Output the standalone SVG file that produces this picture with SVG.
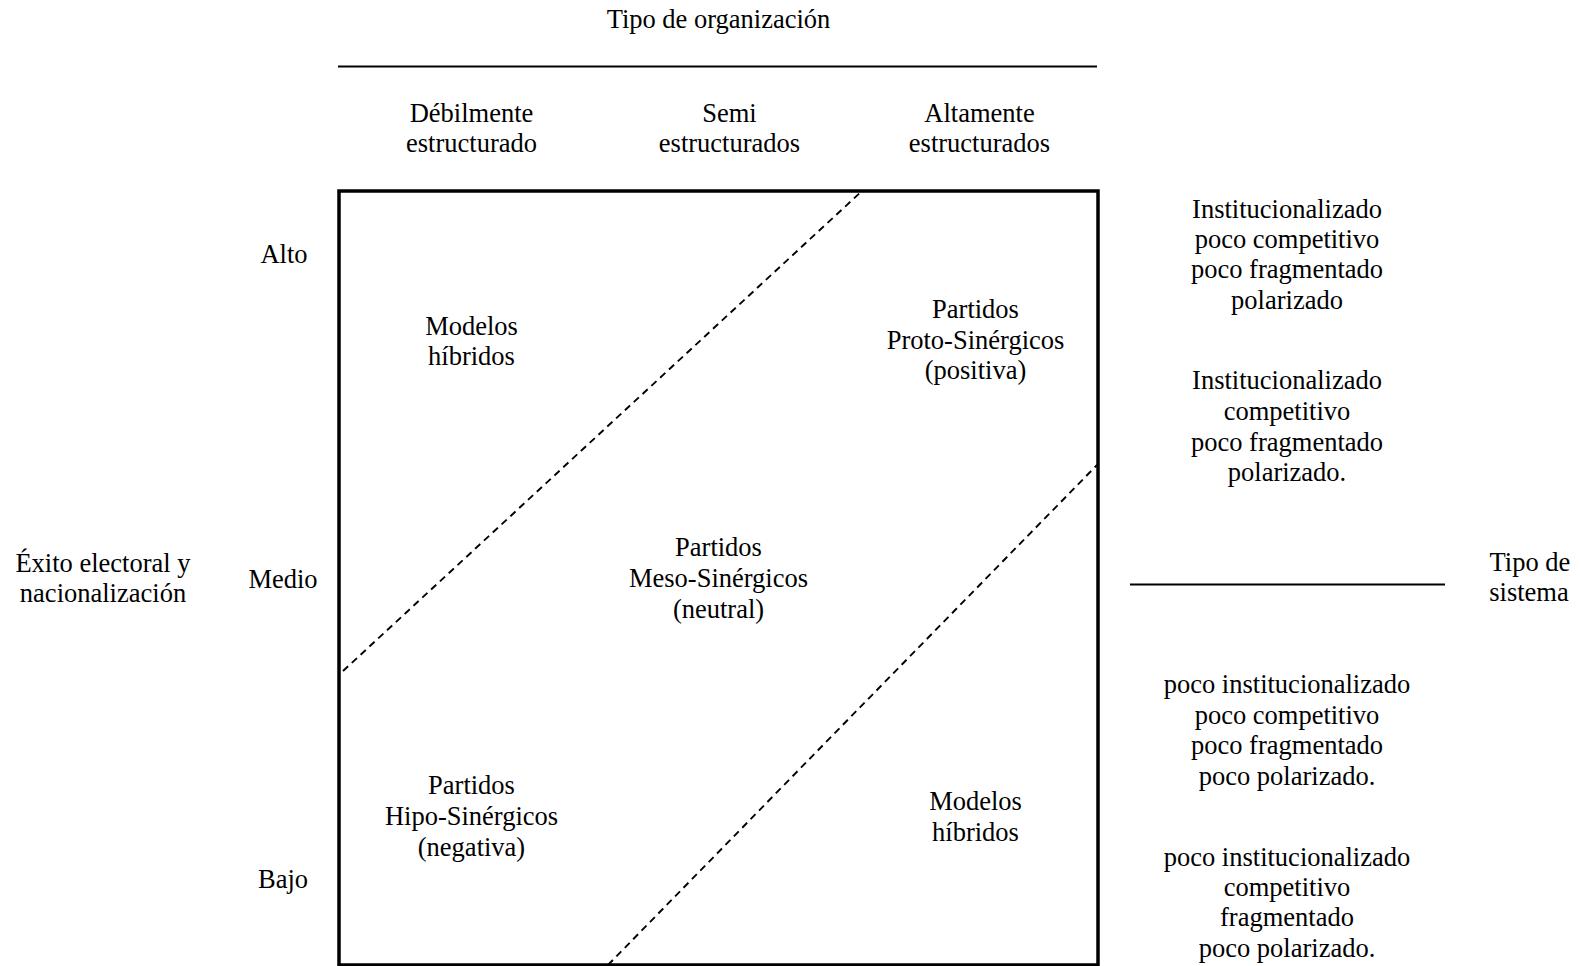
<svg xmlns="http://www.w3.org/2000/svg" width="1580" height="966" viewBox="0 0 1580 966">
<style>
text { font-family: "Liberation Serif", "Times New Roman", serif; font-size: 26.5px; fill: #000; text-anchor: middle; }
.rule { stroke: #000; stroke-width: 2; fill: none; }
.frame { stroke: #000; stroke-width: 3.5; fill: none; }
.dash { stroke: #000; stroke-width: 1.9; stroke-dasharray: 7 5; fill: none; }
</style>
<rect width="1580" height="966" fill="#fff"/>
<g id="axis-top">
  <text x="718.5" y="28">Tipo de organización</text>
  <line class="rule" x1="338" y1="66.5" x2="1097" y2="66.5"/>
</g>
<g id="col-debil"><text x="471.5" y="122">Débilmente</text><text x="471.5" y="152">estructurado</text></g>
<g id="col-semi"><text x="729.5" y="122">Semi</text><text x="729.5" y="152">estructurados</text></g>
<g id="col-alta"><text x="979.5" y="122">Altamente</text><text x="979.5" y="152">estructurados</text></g>
<g id="row-alto"><text x="284" y="263">Alto</text></g>
<g id="row-medio"><text x="283" y="587.5">Medio</text></g>
<g id="row-bajo"><text x="283" y="888">Bajo</text></g>
<g id="axis-left"><text x="103" y="571.5">Éxito electoral y</text><text x="103" y="601.5">nacionalización</text></g>
<g id="axis-right">
  <line class="rule" x1="1130" y1="584.5" x2="1445" y2="584.5"/>
  <text x="1530" y="570.5">Tipo de</text><text x="1529" y="601">sistema</text>
</g>
<g id="frame"><rect class="frame" x="339" y="191" width="759" height="774"/></g>
<g id="connectors">
  <line class="dash" x1="343" y1="671" x2="862" y2="191"/>
  <line class="dash" x1="608" y1="965" x2="1097" y2="465"/>
</g>
<g id="node-hibridos-top"><text x="471.5" y="334.5">Modelos</text><text x="471.5" y="365">híbridos</text></g>
<g id="node-proto"><text x="975.5" y="317.5">Partidos</text><text x="975.5" y="348.5">Proto-Sinérgicos</text><text x="975.5" y="379">(positiva)</text></g>
<g id="node-meso"><text x="718.5" y="556">Partidos</text><text x="718.5" y="587">Meso-Sinérgicos</text><text x="718.5" y="617.5">(neutral)</text></g>
<g id="node-hipo"><text x="471.5" y="794">Partidos</text><text x="471.5" y="825">Hipo-Sinérgicos</text><text x="471.5" y="855.5">(negativa)</text></g>
<g id="node-hibridos-bottom"><text x="975.5" y="810">Modelos</text><text x="975.5" y="840.5">híbridos</text></g>
<g id="sys-1"><text x="1287" y="217.5">Institucionalizado</text><text x="1287" y="248">poco competitivo</text><text x="1287" y="278">poco fragmentado</text><text x="1287" y="308.5">polarizado</text></g>
<g id="sys-2"><text x="1287" y="389">Institucionalizado</text><text x="1287" y="420">competitivo</text><text x="1287" y="450.5">poco fragmentado</text><text x="1287" y="480.5">polarizado.</text></g>
<g id="sys-3"><text x="1287" y="693">poco institucionalizado</text><text x="1287" y="723.5">poco competitivo</text><text x="1287" y="754">poco fragmentado</text><text x="1287" y="785">poco polarizado.</text></g>
<g id="sys-4"><text x="1287" y="865.5">poco institucionalizado</text><text x="1287" y="896">competitivo</text><text x="1287" y="926">fragmentado</text><text x="1287" y="957">poco polarizado.</text></g>
</svg>
